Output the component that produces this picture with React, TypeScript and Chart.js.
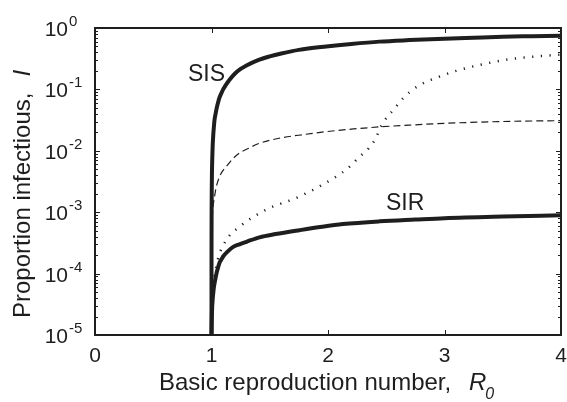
import React, { useEffect, useRef } from "react";
import { Chart, registerables } from "chart.js";

Chart.register(...registerables);

// ---- data ----
const sisR0 = [1.0, 1.00002, 1.0001, 1.0005, 1.001, 1.002, 1.004, 1.007, 1.01, 1.015, 1.02, 1.026, 1.035, 1.045, 1.057, 1.069, 1.085, 1.1, 1.125, 1.15, 1.2, 1.25, 1.3, 1.4, 1.5, 1.6, 1.75, 1.985, 2.2, 2.44, 2.7, 3.0, 3.25, 3.5, 3.75, 4.0];
const sisI = [1e-5, 2e-5, 1e-4, 5e-4, 1e-3, 2.2e-3, 4.5e-3, 8e-3, 0.012, 0.018, 0.024, 0.032, 0.04, 0.05, 0.062, 0.074, 0.087, 0.1, 0.12, 0.14, 0.18, 0.215, 0.245, 0.3, 0.345, 0.385, 0.44, 0.5, 0.55, 0.6, 0.635, 0.67, 0.695, 0.72, 0.735, 0.75];

const sirR0 = [1.0, 1.001, 1.003, 1.006, 1.01, 1.015, 1.02, 1.026, 1.035, 1.045, 1.057, 1.069, 1.085, 1.1, 1.14, 1.183, 1.24, 1.3, 1.412, 1.55, 1.756, 1.95, 2.128, 2.443, 2.75, 3.0, 3.5, 4.0];
const sirI = [1e-5, 1.3e-5, 2e-5, 2.9e-5, 3.8e-5, 4.8e-5, 5.9e-5, 6.9e-5, 8.5e-5, 1.05e-4, 1.27e-4, 1.5e-4, 1.7e-4, 1.9e-4, 2.3e-4, 2.7e-4, 3.0e-4, 3.3e-4, 3.9e-4, 4.4e-4, 5.1e-4, 5.8e-4, 6.4e-4, 7.1e-4, 7.6e-4, 8.0e-4, 8.5e-4, 8.9e-4];

const dashR0 = [1.005, 1.011, 1.018, 1.026, 1.037, 1.05, 1.065, 1.08, 1.1, 1.126, 1.18, 1.24, 1.32, 1.4, 1.58, 1.8, 1.985, 2.2, 2.44, 2.7, 3.0, 3.5, 4.0];
const dashI = [8e-4, 1.1e-3, 1.45e-3, 1.8e-3, 2.4e-3, 3e-3, 3.6e-3, 4.2e-3, 4.8e-3, 5.5e-3, 7.3e-3, 9.2e-3, 1.1e-2, 1.3e-2, 1.6e-2, 1.85e-2, 2.05e-2, 2.25e-2, 2.45e-2, 2.62e-2, 2.8e-2, 3.0e-2, 3.1e-2];

const dotR0 = [1.026, 1.054, 1.126, 1.24, 1.47, 1.756, 2.07, 2.17, 2.27, 2.35, 2.41, 2.45, 2.5, 2.56, 2.63, 2.7, 2.79, 2.95, 3.1, 3.3, 3.56, 3.8, 4.0];
const dotI = [9e-5, 1.7e-4, 3.5e-4, 5.8e-4, 1.1e-3, 1.8e-3, 3.8e-3, 5.2e-3, 8e-3, 1.1e-2, 1.6e-2, 2.4e-2, 3.4e-2, 4.6e-2, 6.7e-2, 0.09, 0.118, 0.16, 0.2, 0.25, 0.31, 0.345, 0.37];

const xTicks = [0, 1, 2, 3, 4];
const yExponents = [0, -1, -2, -3, -4, -5];

const xTitle = "Basic reproduction number,";
const xTitleVar = "R";
const xTitleSub = "0";
const yTitle = "Proportion infectious,";
const yTitleVar = "I";
const curveLabels = ["SIS", "SIR"];

const INK = "#1e1e1e";
const FONT = "'Liberation Sans', Arial, Helvetica, sans-serif";

const toPts = (xs: number[], ys: number[]) => xs.map((x, i) => ({ x, y: ys[i] }));

const decorPlugin = {
  id: "decor",
  afterDraw(chart: any) {
    const ctx = chart.ctx as CanvasRenderingContext2D;
    const { left, right, top, bottom } = chart.chartArea;
    const xs = chart.scales.x;
    const ys = chart.scales.y;
    ctx.save();
    ctx.strokeStyle = INK;
    ctx.fillStyle = INK;

    // frame
    ctx.lineWidth = 2;
    ctx.strokeRect(left, top, right - left, bottom - top);

    // ticks
    ctx.lineWidth = 1;
    ctx.beginPath();
    for (const t of xTicks) {
      const px = Math.round(xs.getPixelForValue(t)) + 0.5;
      ctx.moveTo(px, bottom);
      ctx.lineTo(px, bottom - 5);
      ctx.moveTo(px, top);
      ctx.lineTo(px, top + 5);
    }
    for (const e of yExponents) {
      const py = Math.round(ys.getPixelForValue(Math.pow(10, e))) + 0.5;
      ctx.moveTo(left, py);
      ctx.lineTo(left + 5, py);
      ctx.moveTo(right, py);
      ctx.lineTo(right - 5, py);
      if (e > -5) {
        for (let k = 2; k <= 9; k++) {
          const v = k * Math.pow(10, e - 1);
          const pm = Math.round(ys.getPixelForValue(v)) + 0.5;
          ctx.moveTo(left, pm);
          ctx.lineTo(left + 3, pm);
          ctx.moveTo(right, pm);
          ctx.lineTo(right - 3, pm);
        }
      }
    }
    ctx.stroke();

    // x tick labels
    ctx.font = `21px ${FONT}`;
    ctx.textAlign = "center";
    ctx.textBaseline = "alphabetic";
    for (const t of xTicks) {
      ctx.fillText(String(t), xs.getPixelForValue(t), bottom + 27);
    }

    // y tick labels 10^e
    for (const e of yExponents) {
      const py = ys.getPixelForValue(Math.pow(10, e));
      ctx.font = `21px ${FONT}`;
      ctx.textAlign = "right";
      ctx.fillText("10", left - 27, py + 8);
      ctx.font = `15px ${FONT}`;
      ctx.textAlign = "left";
      ctx.fillText(String(e), left - 26, py - 2);
    }

    // x title
    ctx.font = `24px ${FONT}`;
    ctx.textAlign = "left";
    const x0 = 159;
    const by = 390;
    ctx.fillText(xTitle, x0, by);
    const w = ctx.measureText(xTitle).width;
    ctx.font = `italic 24px ${FONT}`;
    const rx = Math.max(x0 + w + 16, 469);
    ctx.fillText(xTitleVar, rx, by);
    const wr = ctx.measureText(xTitleVar).width;
    ctx.font = `italic 16px ${FONT}`;
    ctx.fillText(xTitleSub, rx + wr - 1, by + 9);

    // y title
    ctx.save();
    ctx.translate(30, 318);
    ctx.rotate(-Math.PI / 2);
    ctx.font = `24px ${FONT}`;
    ctx.fillText(yTitle, 0, 0);
    const wy = ctx.measureText(yTitle).width;
    ctx.font = `italic 24px ${FONT}`;
    ctx.fillText(yTitleVar, wy + 16, 0);
    ctx.restore();

    // curve labels
    ctx.font = `23px ${FONT}`;
    ctx.textAlign = "left";
    ctx.fillText(curveLabels[0], 188, 81);
    ctx.fillText(curveLabels[1], 386, 210);

    ctx.restore();
  },
};

export default function App() {
  const ref = useRef<HTMLCanvasElement | null>(null);
  useEffect(() => {
    if (!ref.current) return;
    const common = {
      pointRadius: 0,
      borderColor: INK,
      cubicInterpolationMode: "monotone" as const,
      borderCapStyle: "butt" as const,
      borderJoinStyle: "round" as const,
      fill: false,
    };
    const chart = new Chart(ref.current, {
      type: "line",
      data: {
        datasets: [
          { ...common, label: "SIS", data: toPts(sisR0, sisI), borderWidth: 4 },
          { ...common, label: "SIR", data: toPts(sirR0, sirI), borderWidth: 4 },
          { ...common, label: "dashed", data: toPts(dashR0, dashI), borderWidth: 1.2, borderDash: [7, 4] },
          { ...common, label: "dotted", data: toPts(dotR0, dotI), borderWidth: 2.5, borderDash: [1.2, 7.5] },
        ],
      },
      options: {
        animation: false,
        responsive: false,
        events: [],
        layout: { padding: { left: 95, top: 28, right: 6, bottom: 67 } },
        plugins: { legend: { display: false }, tooltip: { enabled: false } },
        scales: {
          x: { type: "linear", min: 0, max: 4, display: false },
          y: { type: "logarithmic", min: 1e-5, max: 1, display: false },
        },
      },
      plugins: [decorPlugin],
    });
    return () => chart.destroy();
  }, []);
  return (
    <div style={{ position: "absolute", left: 0, top: 0, width: 567, height: 402, background: "#fff" }}>
      <canvas ref={ref} width={567} height={402} />
    </div>
  );
}
